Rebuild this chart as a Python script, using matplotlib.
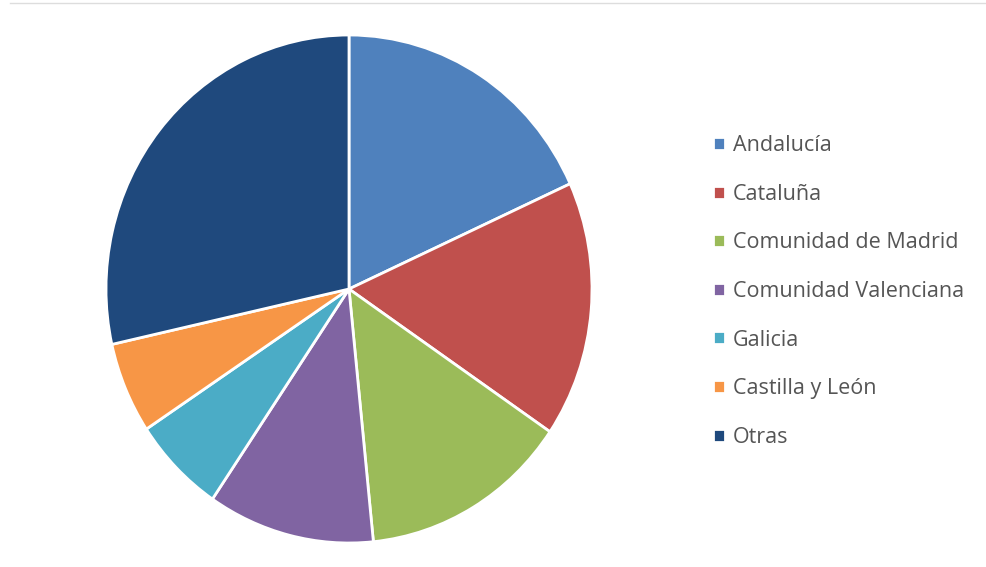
import matplotlib.pyplot as plt
from matplotlib.lines import Line2D

regiones = ['Andalucía', 'Cataluña', 'Comunidad de Madrid', 'Comunidad Valenciana',
            'Galicia', 'Castilla y León', 'Otras']
porcentajes = [18.2, 16.3, 13.9, 11.1, 6.2, 5.8, 28.5]
colores = ['#4F81BD', '#C0504D', '#9BBB59', '#8064A2', '#4BACC6', '#F79646', '#1F497D']

plt.rcParams['font.family'] = ['Open Sans', 'DejaVu Sans']

fig = plt.figure(figsize=(9.87, 5.67), dpi=100)
ax = fig.add_axes([106 / 987, 24 / 567, 486 / 987, 508 / 567])

wedges, _ = ax.pie(porcentajes, colors=colores, startangle=90, counterclock=False,
                   wedgeprops=dict(edgecolor='white', linewidth=2))
ax.set_aspect('auto')
ax.set_xlim(-1, 1)
ax.set_ylim(-1, 1)
ax.axis('off')

fig.legend(wedges, regiones, loc='upper left', bbox_to_anchor=(694 / 987, 1 - 116 / 567),
           frameon=False, fontsize=15.5, labelcolor='#555555',
           handlelength=0.55, handleheight=0.55, handletextpad=0.35,
           labelspacing=1.28)

# thin rule along the top edge
fig.add_artist(Line2D([0.01, 1], [1 - 3 / 567, 1 - 3 / 567], color='#dddddd', linewidth=1))

plt.savefig('out.png', dpi=100)
